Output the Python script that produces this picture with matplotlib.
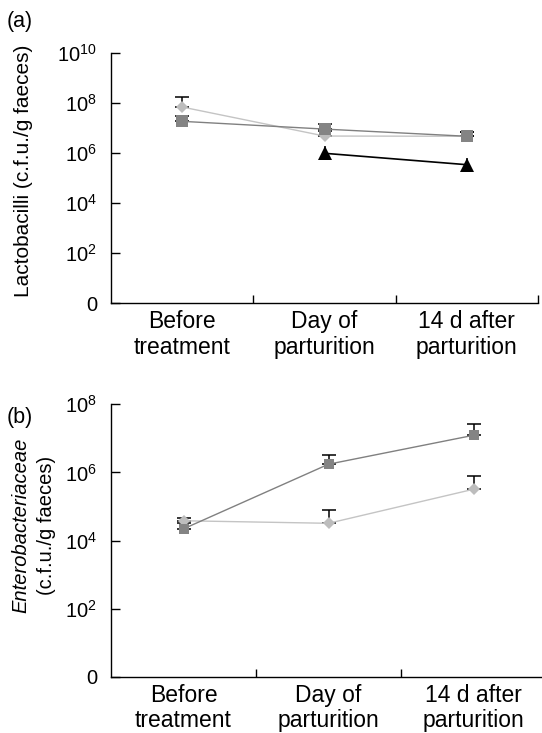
import numpy as np
import matplotlib
matplotlib.use("Agg")
import matplotlib.pyplot as plt
from matplotlib.ticker import NullLocator

plt.rcParams["font.family"] = ["Liberation Sans", "DejaVu Sans"]
plt.rcParams["mathtext.fontset"] = "custom"
plt.rcParams["mathtext.rm"] = "Liberation Sans"
plt.rcParams["mathtext.it"] = "Liberation Sans:italic"

# Data (c.f.u./g faeces)
periods = ["Before\ntreatment", "Day of\nparturition", "14 d after\nparturition"]

# (a) Lactobacilli
lacto_diamond = [7.1e7, 4.9e6, 4.8e6]
lacto_diamond_upper = [1.74e8, 7.5e6, 7.0e6]
lacto_square = [1.9e7, 9.3e6, 4.8e6]
lacto_square_upper = [3.1e7, 1.48e7, 7.2e6]
lacto_triangle = [np.nan, 1.0e6, 3.5e5]
lacto_triangle_upper = [np.nan, 1.9e6, 6.5e5]

# (b) Enterobacteriaceae
entero_diamond = [3.8e4, 3.2e4, 3.2e5]
entero_diamond_upper = [4.5e4, 7.9e4, 7.8e5]
entero_square = [2.2e4, 1.74e6, 1.23e7]
entero_square_upper = [3.3e4, 3.2e6, 2.6e7]

lacto_ticks = [1, 1e2, 1e4, 1e6, 1e8, 1e10]
lacto_ticklabels = ["0", "$10^{2}$", "$10^{4}$", "$10^{6}$", "$10^{8}$", "$10^{10}$"]
entero_ticks = [1, 1e2, 1e4, 1e6, 1e8]
entero_ticklabels = ["0", "$10^{2}$", "$10^{4}$", "$10^{6}$", "$10^{8}$"]

LIGHT = "#bdbdbd"
DARK = "#848484"

W, H = 542, 733
fig = plt.figure(figsize=(W / 100, H / 100), dpi=100)

ax_a = fig.add_axes([111 / W, 1 - 303.3 / H, 427 / W, 250 / H])
ax_b = fig.add_axes([111 / W, 1 - 676.7 / H, 435 / W, 272.4 / H])

x = np.arange(len(periods)) + 0.5


def series(ax, values, upper, color, line_color, marker, ms, lw=1.0, capsize=5):
    values = np.array(values, dtype=float)
    upper = np.array(upper, dtype=float)
    err = np.vstack([np.zeros_like(values), upper - values])
    ax.errorbar(x, values, yerr=err, fmt="none", ecolor="black",
                elinewidth=1.1, capsize=capsize, capthick=1.1, zorder=2)
    ax.plot(x, values, color=line_color, lw=lw, zorder=3)
    ax.plot(x, values, linestyle="none", marker=marker, ms=ms,
            color=color, mec=color, mew=0, zorder=4)


def style(ax, ticks, ticklabels, top):
    ax.set_yscale("log")
    ax.set_ylim(1, top)
    ax.set_xlim(0, 3)
    ax.set_yticks(ticks)
    ax.set_yticklabels(ticklabels)
    ax.yaxis.set_minor_locator(NullLocator())
    ax.set_xticks(x)
    ax.set_xticklabels(periods, linespacing=1.15)
    ax.set_xticks([1, 2, 3], minor=True)
    for s in ["top", "right"]:
        ax.spines[s].set_visible(False)
    for s in ["left", "bottom"]:
        ax.spines[s].set_linewidth(1.0)
    ax.tick_params(axis="y", which="major", direction="in", length=6.5,
                   width=1.0, pad=10, labelsize=14.5)
    ax.tick_params(axis="x", which="major", length=0, pad=5, labelsize=16.5)
    ax.tick_params(axis="x", which="minor", direction="in", length=6, width=1.0)


series(ax_a, lacto_diamond, lacto_diamond_upper, LIGHT, "#c4c4c4", "D", 6.0)
series(ax_a, lacto_square, lacto_square_upper, DARK, "#808080", "s", 8.2)
series(ax_a, lacto_triangle, lacto_triangle_upper, "black", "black", "^", 10,
       lw=1.2, capsize=0)
style(ax_a, lacto_ticks, lacto_ticklabels, 1e10)

series(ax_b, entero_diamond, entero_diamond_upper, LIGHT, "#c4c4c4", "D", 6.0)
series(ax_b, entero_square, entero_square_upper, DARK, "#808080", "s", 7.2)
style(ax_b, entero_ticks, entero_ticklabels, 1e8)

fig.text(24 / W, 1 - 171 / H, "Lactobacilli (c.f.u./g faeces)", rotation=90,
         ha="center", va="center", fontsize=15)
fig.text(21 / W, 1 - 525 / H, "Enterobacteriaceae", rotation=90, style="italic",
         ha="center", va="center", fontsize=14.5)
fig.text(47 / W, 1 - 525 / H, "(c.f.u./g faeces)", rotation=90,
         ha="center", va="center", fontsize=14.5)

fig.text(7 / W, 1 - 22 / H, "(a)", ha="left", va="center", fontsize=15.5)
fig.text(7 / W, 1 - 417 / H, "(b)", ha="left", va="center", fontsize=15.5)

fig.savefig("out.png", dpi=100)
